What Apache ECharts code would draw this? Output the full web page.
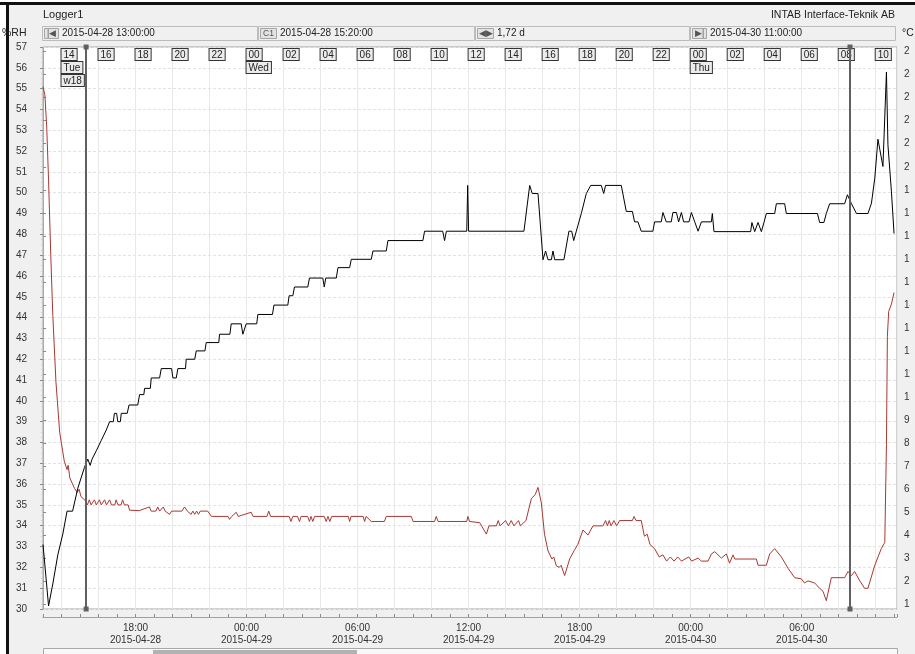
<!DOCTYPE html>
<html>
<head>
<meta charset="utf-8">
<title>Logger1</title>
<script src="https://cdn.jsdelivr.net/npm/echarts@6.0.0/dist/echarts.min.js"></script>
<style>
  html, body { margin: 0; padding: 0; background: #fff; }
  #chart { width: 915px; height: 654px; }
</style>
</head>
<body>
<div id="chart"></div>
<script>
// x values are hours after the view start (2015-04-28 13:00:00)
const START = new Date(2015, 3, 28, 13, 0, 0);
const VIEW_HOURS = 46.15;
const DAYS = ['Sun', 'Mon', 'Tue', 'Wed', 'Thu', 'Fri', 'Sat'];

// cursors: C1 at 15:20, second cursor 1,72 d later
const cursorHours = [2.333, 43.61];

// %RH (black, left axis)
const rhHours = [
  0, 0.3, 0.53, 0.8, 1.07, 1.3, 1.6, 1.88, 2.24, 2.42,
  2.55, 2.65, 2.88, 3.15, 3.42, 3.6, 3.8, 3.86, 3.98, 4.04,
  4.18, 4.23, 4.55, 4.65, 5.12, 5.22, 5.45, 5.49, 5.8, 5.85,
  6.3, 6.39, 6.95, 7.02, 7.2, 7.29, 7.7, 7.74, 8.2, 8.28,
  8.75, 8.82, 9.5, 9.54, 10.1, 10.17, 10.71, 10.8, 10.9, 10.98,
  11.55, 11.61,
  12.4, 12.48, 13.23, 13.3, 13.5, 13.59, 14.31, 14.4, 15.12, 15.2,
  15.28, 15.85, 15.94, 16.57, 16.66, 17.74, 17.83, 18.55, 18.64, 20.53,
  20.62, 21.6, 21.7, 21.8, 22.9, 22.95, 23.0,
  25.99, 26.3, 26.44, 26.75, 27.02, 27.16, 27.29, 27.47, 27.56, 27.65,
  28.15, 28.42, 28.57, 28.68, 28.82, 29.09, 29.36, 29.6, 30.17, 30.3,
  30.4, 31.25, 31.52, 31.85, 31.97, 32.15, 32.33, 32.96, 33.05, 33.41,
  33.5, 33.68, 33.95, 34.04, 34.23, 34.35, 34.5, 34.62, 34.91, 35.04,
  35.22, 35.4, 35.58,
  36.12, 36.17, 36.26, 38.24, 38.31, 38.46, 38.64, 38.82, 38.96, 39.09,
  39.54, 39.63, 40.08, 40.17, 41.85, 41.97, 42.2, 42.33, 42.51, 43.32,
  43.47, 43.69, 43.96, 44.58, 44.77, 44.95, 45.12, 45.39, 45.58, 45.66,
  45.85, 45.99
];
const rhValues = [
  33.1, 30.15, 31.2, 32.6, 33.6, 34.7, 34.7, 35.8, 36.8, 37.2,
  36.9, 37.2, 37.6, 38.1, 38.6, 39.0, 39.0, 39.4, 39.4, 39.0,
  39.0, 39.4, 39.4, 39.8, 39.8, 40.3, 40.3, 40.6, 40.6, 41.1,
  41.1, 41.55, 41.55, 41.1, 41.1, 41.55, 41.55, 42.0, 42.0, 42.4,
  42.4, 42.8, 42.8, 43.2, 43.2, 43.7, 43.7, 43.2, 43.2, 43.7,
  43.7, 44.15,
  44.15, 44.6, 44.6, 45.05, 45.05, 45.47, 45.47, 45.9, 45.9, 45.47,
  45.9, 45.9, 46.4, 46.4, 46.8, 46.8, 47.2, 47.2, 47.7, 47.7,
  48.15, 48.15, 47.7, 48.15, 48.15, 50.35, 48.15,
  48.15, 50.35, 49.96, 49.96, 46.78, 47.2, 46.78, 46.78, 47.2, 46.78,
  46.78, 48.15, 48.15, 47.7, 48.15, 49.0, 49.96, 50.35, 50.35, 49.96,
  50.35, 50.35, 49.1, 49.1, 48.6, 48.6, 48.15, 48.15, 48.6, 48.6,
  49.05, 48.6, 48.6, 49.05, 49.05, 48.6, 49.05, 48.6, 48.6, 49.05,
  48.6, 48.15, 48.6,
  48.6, 49.0, 48.13, 48.13, 48.57, 48.13, 48.57, 48.13, 48.57, 49.0,
  49.0, 49.47, 49.47, 49.0, 49.0, 48.57, 48.57, 49.0, 49.47, 49.47,
  49.9, 49.47, 49.0, 49.0, 49.5, 50.7, 52.57, 51.26, 55.8, 52.3,
  50.04, 48.04
];

// °C (red, right axis)
const tempHours = [
  0, 0.1, 0.2, 0.3, 0.42, 0.53, 0.7, 0.9, 1.15, 1.3,
  1.36, 1.45, 1.7, 1.85, 1.95, 2.05, 2.3, 2.4, 2.5, 2.6,
  2.7, 2.78, 2.88, 2.97, 3.05, 3.15, 3.25, 3.33, 3.43, 3.52,
  3.6, 3.7, 3.88, 3.95, 4.05, 4.22, 4.3, 4.4, 4.6, 4.68,
  5.2, 5.3, 5.75, 5.85, 6.1, 6.2, 6.3, 6.4, 6.5, 6.6,
  6.84, 6.95, 7.5, 7.65, 7.8, 8.0, 8.1, 8.2, 8.3, 8.4,
  8.5, 8.9, 9.1, 10.0, 10.08, 10.2, 10.44, 10.55, 11.25, 11.35,
  12.1, 12.2, 12.3, 13.3, 13.4, 13.5, 13.75, 13.86, 13.95, 14.3,
  14.4, 14.48, 14.58, 14.68, 15.2, 15.3, 15.4, 15.5, 15.6, 16.5,
  16.57, 16.65, 17.3, 17.38, 17.46, 17.74, 18.45, 18.55, 19.9, 20.0,
  21.16, 21.25, 21.35, 22.9, 22.96, 23.05, 23.6, 23.96, 24.1, 24.5,
  24.6, 24.7, 25.0, 25.15, 25.3, 25.45, 25.7, 25.8, 26.1, 26.39,
  26.6, 26.75, 26.93, 27.1, 27.29, 27.5, 27.6, 27.74, 27.9, 28.0,
  28.19, 28.46, 28.7, 28.9, 29.18, 29.45, 29.72, 30.26, 30.4, 30.5,
  30.6, 30.7, 30.85, 31.0, 31.16, 31.85, 31.94, 32.05, 32.33, 32.5,
  32.65, 32.8, 33.05, 33.3, 33.5, 33.7, 33.9, 34.1, 34.3, 34.5,
  34.9, 35.05, 35.4, 35.58, 35.94, 36.12, 36.3, 36.48, 36.66, 36.93,
  37.1, 37.29, 37.38, 38.55, 38.64, 39.09, 39.27, 39.54, 39.9, 40.26,
  40.62, 40.98, 41.15, 41.34, 41.7, 41.97, 42.15, 42.33, 42.6, 43.32,
  43.5, 43.69, 43.86, 44.14, 44.4, 44.58, 44.95, 45.3, 45.49, 45.58,
  45.63, 45.7, 45.85, 45.99
];
const tempValues = [
  23.48, 23.12, 21.77, 19.42, 16.16, 13.54, 10.65, 8.48, 7.22, 6.85,
  7.04, 6.49, 6.04, 5.86, 6.0, 5.68, 5.5, 5.32, 5.54, 5.32,
  5.32, 5.54, 5.32, 5.32, 5.54, 5.32, 5.32, 5.54, 5.32, 5.32,
  5.54, 5.32, 5.32, 5.54, 5.32, 5.32, 5.54, 5.32, 5.32, 5.09,
  5.07, 5.05, 5.23, 5.05, 5.05, 5.23, 5.05, 5.05, 5.23, 5.05,
  4.91, 5.05, 5.05, 5.23, 5.05, 4.91, 5.05, 4.91, 5.05, 4.91,
  5.05, 5.05, 4.82, 4.82, 4.69, 4.82, 5.0, 4.82, 5.0, 4.82,
  4.82, 5.05, 4.82, 4.82, 4.6, 4.82, 4.82, 4.6, 4.82, 4.82,
  4.6, 4.82, 4.6, 4.82, 4.82, 4.6, 4.82, 4.6, 4.82, 4.82,
  4.6, 4.82, 4.82, 4.6, 4.82, 4.6, 4.6, 4.82, 4.82, 4.6,
  4.6, 4.82, 4.6, 4.6, 4.82, 4.6, 4.55, 4.05, 4.41, 4.41,
  4.64, 4.41, 4.64, 4.41, 4.64, 4.41, 4.64, 4.41, 4.64, 5.59,
  5.77, 6.08, 5.41, 4.05, 3.33, 2.97, 3.06, 2.67, 2.61, 2.7,
  2.25, 2.97, 3.33, 3.6, 4.23, 4.01, 4.41, 4.41, 4.64, 4.41,
  4.64, 4.41, 4.64, 4.41, 4.64, 4.64, 4.82, 4.64, 4.64, 3.96,
  4.05, 3.6, 3.42, 3.06, 3.15, 2.88, 3.06, 2.88, 3.06, 2.88,
  3.06, 2.88, 3.01, 2.88, 2.88, 3.19, 3.29, 3.15, 3.01, 3.19,
  2.79, 3.15, 2.97, 2.97, 2.7, 2.7, 3.19, 3.42, 3.06, 2.57,
  2.16, 2.11, 1.93, 2.02, 1.93, 1.7, 1.57, 1.16, 2.16, 2.16,
  2.43, 2.25, 2.43, 2.02, 1.7, 1.7, 2.7, 3.42, 3.69, 7.94,
  12.64, 13.72, 14.04, 14.54
];
const tempTicks = [1, 2, 3, 4, 5, 6, 7, 8, 9, 10, 11, 12, 13, 14, 15, 16, 17, 18, 19, 20, 21, 22, 23, 24, 25];

const FONT = '"Liberation Sans", Arial, sans-serif';

function pad(n) { return (n < 10 ? '0' : '') + n; }
function isWhole(v) { return Math.abs(v - Math.round(v)) < 1e-6; }
function timeAt(h) { return new Date(START.getTime() + Math.round(h * 3600000)); }
function ymd(d) { return d.getFullYear() + '-' + pad(d.getMonth() + 1) + '-' + pad(d.getDate()); }
function isoWeek(d) {
  const t = new Date(Date.UTC(d.getFullYear(), d.getMonth(), d.getDate()));
  const day = t.getUTCDay() || 7;
  t.setUTCDate(t.getUTCDate() + 4 - day);
  const y0 = new Date(Date.UTC(t.getUTCFullYear(), 0, 1));
  return Math.ceil(((t - y0) / 86400000 + 1) / 7);
}

function topLabel(v) {
  if (!isWhole(v)) return '';
  const d = timeAt(v);
  const hr = d.getHours();
  if (hr % 2) return '';
  let s = '{b|' + pad(hr) + '}';
  if (hr === 0 || v < 2) s += '\n{b|' + DAYS[d.getDay()] + '}';
  if (v < 2) s += '\n{b|w' + isoWeek(d) + '}';
  return s;
}
function bottomLabel(v) {
  if (!isWhole(v)) return '';
  const d = timeAt(v);
  if (d.getHours() % 6) return '';
  return pad(d.getHours()) + ':00\n' + ymd(d);
}

// header / frame decorations
function text(x, y, s, size, align, color) {
  return {
    type: 'text', x: x, y: y, silent: true, z: 10,
    style: {
      text: s, font: size + 'px ' + FONT, fill: color || '#222',
      align: align || 'left', textAlign: align || 'left',
      verticalAlign: 'middle', textVerticalAlign: 'middle'
    }
  };
}
function fillRect(x, y, w, h, fill, z) {
  return { type: 'rect', silent: true, z: z || 0, shape: { x: x, y: y, width: w, height: h }, style: { fill: fill } };
}
function frame(x, y, w, h, fill, stroke) {
  return { type: 'rect', silent: true, shape: { x: x + 0.5, y: y + 0.5, width: w, height: h }, style: { fill: fill || 'transparent', stroke: stroke, lineWidth: 1 } };
}
function field(x, w, icon, iconW, value) {
  return [
    frame(x, 26, w, 14, null, '#bcbcbc'),
    frame(x + 2, 28, iconW, 10, '#e3e3e3', '#a6a6a6'),
    text(x + 2 + iconW / 2 + 0.5, 33.5, icon, 8.5, 'center', '#555'),
    text(x + iconW + 6, 33.5, value, 10)
  ];
}

const graphics = [
  fillRect(0, 0, 915, 2, '#fff'),
  fillRect(0, 2, 6, 652, '#fff'),
  fillRect(0, 2, 915, 3, '#111'),
  fillRect(6, 2, 3, 652, '#111'),
  text(43, 15, 'Logger1', 11),
  text(895, 15, 'INTAB Interface-Teknik AB', 10.5, 'right'),
  text(2, 33, '%RH', 10.5),
  text(902, 33, '°C', 10.5),
  ...field(42, 215, '|◀', 14, '2015-04-28 13:00:00'),
  ...field(258, 216, 'C1', 16, '2015-04-28 15:20:00'),
  ...field(475, 214, '◀▶', 16, '1,72 d'),
  ...field(690, 205, '▶|', 14, '2015-04-30 11:00:00'),
  fillRect(910, 44, 5, 572, '#f0f0f0', 100),
  frame(43, 648, 854, 6, '#f8f8f8', '#a8a8a8'),
  fillRect(153, 650, 204, 4, '#b2b2b2')
];

const boxStyle = {
  fontSize: 10, fontFamily: FONT, color: '#222', backgroundColor: '#ececec',
  borderColor: '#333', borderWidth: 1, padding: [1, 2, 0, 2], lineHeight: 13
};

const chart = echarts.init(document.getElementById('chart'), null, { renderer: 'canvas' });
chart.setOption({
  animation: false,
  backgroundColor: '#f0f0f0',
  textStyle: { fontFamily: FONT },
  graphic: graphics,
  grid: {
    left: 43, right: 18, top: 47, bottom: 45,
    show: true, backgroundColor: '#fff', borderColor: '#a4a4a4', borderWidth: 1,
    containLabel: false, outerBoundsMode: 'none'
  },
  xAxis: [
    {
      type: 'value', position: 'bottom', offset: 8,
      min: 0, max: VIEW_HOURS, interval: 1,
      axisLine: { show: true, lineStyle: { color: '#a0a0a0', width: 1 } },
      axisTick: { show: true, inside: true, length: 3, lineStyle: { color: '#8c8c8c' } },
      axisLabel: { formatter: bottomLabel, color: '#333', fontSize: 10, lineHeight: 12, margin: 5 },
      splitLine: { show: false }
    },
    {
      type: 'value', position: 'top',
      min: 0, max: VIEW_HOURS, interval: 1,
      axisLine: { show: false },
      axisTick: { show: false },
      axisLabel: {
        inside: true, margin: 1, align: 'left', verticalAlign: 'top',
        formatter: topLabel, rich: { b: boxStyle }
      },
      splitLine: { show: true, lineStyle: { color: ['rgba(0,0,0,0)', '#e8e8e8'], width: 1 } }
    }
  ],
  yAxis: [
    {
      type: 'value', position: 'left', offset: 9,
      min: 30, max: 57, interval: 1,
      axisLine: { show: true, lineStyle: { color: '#a8a8a8', type: 'dotted' } },
      axisTick: { show: true, length: 3, lineStyle: { color: '#8a8a8a' } },
      minorTick: { show: true, splitNumber: 4, length: 2, lineStyle: { color: '#cfcfcf' } },
      axisLabel: { color: '#333', fontSize: 10, margin: 7 },
      splitLine: { show: true, lineStyle: { color: '#e3e3e3', type: [3, 2] } }
    },
    {
      type: 'value', position: 'right', offset: 3,
      min: 0.8, max: 25.2,
      axisLine: { show: true, lineStyle: { color: '#a8a8a8', type: 'dotted' } },
      axisTick: { show: true, length: 3, customValues: tempTicks, lineStyle: { color: '#8a8a8a' } },
      axisLabel: { customValues: tempTicks, color: '#333', fontSize: 10, margin: 4 },
      splitLine: { show: false }
    }
  ],
  series: [
    {
      name: '°C', type: 'line', xAxisIndex: 0, yAxisIndex: 1,
      showSymbol: false, silent: true,
      lineStyle: { color: '#a83834', width: 1 },
      data: tempHours.map((h, i) => [h, tempValues[i]])
    },
    {
      name: '%RH', type: 'line', xAxisIndex: 0, yAxisIndex: 0,
      showSymbol: false, silent: true,
      lineStyle: { color: '#000', width: 1 },
      data: rhHours.map((h, i) => [h, rhValues[i]]),
      markLine: {
        silent: true, symbol: ['rect', 'rect'], symbolSize: 5,
        label: { show: false },
        lineStyle: { color: '#606060', width: 2, type: 'solid' },
        data: cursorHours.map(h => ({ xAxis: h }))
      }
    }
  ]
});
</script>
</body>
</html>
